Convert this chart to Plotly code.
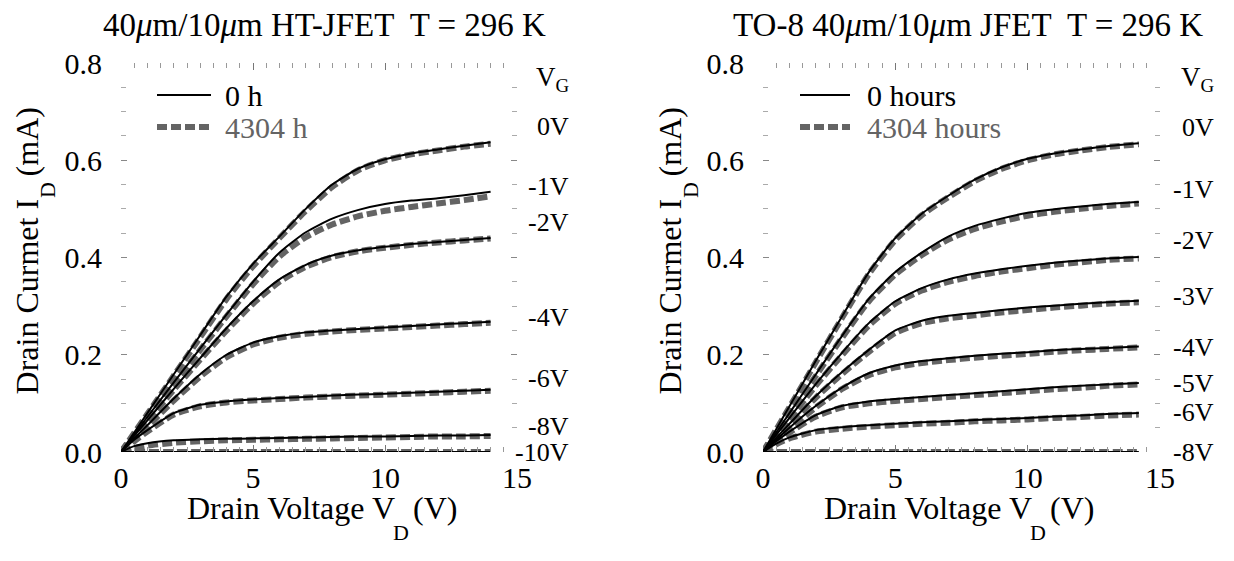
import plotly.graph_objects as go

# ---------------- data ----------------
vd_left = [0, 0.5, 1, 2, 3, 4, 5, 6, 7, 8, 9, 10, 11, 12, 13, 14]
vd_right = [0, 0.5, 1, 2, 3, 4, 5, 6, 7, 8, 9, 10, 11, 12, 13, 14.2]

vg_left = ["0V", "-1V", "-2V", "-4V", "-6V", "-8V", "-10V"]
left_0h = [
    [0, 0.04, 0.08, 0.16, 0.24, 0.32, 0.387, 0.443, 0.5, 0.55, 0.583, 0.602, 0.614, 0.622, 0.63, 0.637],
    [0, 0.036, 0.072, 0.143, 0.213, 0.283, 0.35, 0.41, 0.452, 0.48, 0.498, 0.51, 0.517, 0.522, 0.528, 0.535],
    [0, 0.033, 0.065, 0.13, 0.193, 0.255, 0.31, 0.355, 0.385, 0.404, 0.415, 0.422, 0.428, 0.432, 0.436, 0.44],
    [0, 0.028, 0.055, 0.11, 0.16, 0.20, 0.225, 0.238, 0.246, 0.25, 0.253, 0.256, 0.259, 0.262, 0.265, 0.268],
    [0, 0.025, 0.045, 0.08, 0.097, 0.104, 0.108, 0.111, 0.113, 0.116, 0.118, 0.12, 0.122, 0.124, 0.126, 0.128],
    [0, 0.012, 0.018, 0.024, 0.026, 0.027, 0.028, 0.029, 0.03, 0.031, 0.032, 0.032, 0.033, 0.034, 0.034, 0.035],
    [0, 0, 0, 0, 0, 0, 0, 0, 0, 0, 0, 0, 0, 0, 0, 0],
]
left_4304h = [
    [0, 0.039, 0.078, 0.157, 0.236, 0.315, 0.382, 0.44, 0.496, 0.545, 0.58, 0.6, 0.612, 0.62, 0.628, 0.634],
    [0, 0.035, 0.07, 0.14, 0.21, 0.279, 0.345, 0.402, 0.442, 0.468, 0.485, 0.496, 0.504, 0.511, 0.518, 0.526],
    [0, 0.032, 0.064, 0.128, 0.19, 0.25, 0.305, 0.35, 0.381, 0.401, 0.413, 0.42, 0.426, 0.431, 0.435, 0.439],
    [0, 0.026, 0.052, 0.106, 0.155, 0.195, 0.221, 0.235, 0.243, 0.248, 0.251, 0.254, 0.257, 0.26, 0.263, 0.266],
    [0, 0.022, 0.042, 0.077, 0.094, 0.102, 0.106, 0.109, 0.112, 0.114, 0.116, 0.118, 0.12, 0.122, 0.124, 0.126],
    [0, 0.008, 0.013, 0.019, 0.022, 0.024, 0.025, 0.026, 0.027, 0.028, 0.029, 0.03, 0.031, 0.032, 0.032, 0.033],
    [0, 0, 0, 0, 0, 0, 0, 0, 0, 0, 0, 0, 0, 0, 0, 0],
]
left_label_y = [0.670, 0.547, 0.473, 0.276, 0.152, 0.052, 0.0]

vg_right = ["0V", "-1V", "-2V", "-3V", "-4V", "-5V", "-6V", "-8V"]
right_0h = [
    [0, 0.047, 0.094, 0.188, 0.28, 0.37, 0.44, 0.49, 0.527, 0.56, 0.585, 0.603, 0.614, 0.622, 0.629, 0.635],
    [0, 0.04, 0.08, 0.16, 0.24, 0.315, 0.37, 0.41, 0.443, 0.465, 0.48, 0.492, 0.499, 0.505, 0.51, 0.514],
    [0, 0.035, 0.07, 0.14, 0.205, 0.265, 0.31, 0.337, 0.355, 0.367, 0.376, 0.383, 0.389, 0.394, 0.398, 0.401],
    [0, 0.029, 0.058, 0.115, 0.165, 0.21, 0.25, 0.27, 0.28, 0.286, 0.292, 0.297, 0.301, 0.305, 0.308, 0.311],
    [0, 0.025, 0.05, 0.095, 0.133, 0.162, 0.178, 0.187, 0.193, 0.198, 0.202, 0.205, 0.209, 0.212, 0.214, 0.217],
    [0, 0.022, 0.042, 0.076, 0.095, 0.104, 0.109, 0.113, 0.117, 0.121, 0.125, 0.129, 0.133, 0.136, 0.139, 0.142],
    [0, 0.017, 0.03, 0.045, 0.051, 0.055, 0.058, 0.061, 0.063, 0.066, 0.068, 0.07, 0.073, 0.075, 0.078, 0.08],
    [0, 0, 0, 0, 0, 0, 0, 0, 0, 0, 0, 0, 0, 0, 0, 0],
]
right_4304h = [
    [0, 0.046, 0.092, 0.185, 0.277, 0.366, 0.436, 0.487, 0.524, 0.557, 0.582, 0.6, 0.612, 0.62, 0.627, 0.633],
    [0, 0.039, 0.078, 0.157, 0.236, 0.31, 0.365, 0.405, 0.437, 0.459, 0.474, 0.486, 0.494, 0.5, 0.506, 0.511],
    [0, 0.034, 0.068, 0.137, 0.2, 0.26, 0.305, 0.332, 0.35, 0.362, 0.371, 0.378, 0.385, 0.39, 0.395, 0.398],
    [0, 0.028, 0.056, 0.112, 0.161, 0.206, 0.245, 0.265, 0.275, 0.281, 0.287, 0.292, 0.297, 0.301, 0.305, 0.308],
    [0, 0.024, 0.048, 0.092, 0.13, 0.158, 0.174, 0.183, 0.189, 0.194, 0.198, 0.202, 0.206, 0.209, 0.212, 0.215],
    [0, 0.021, 0.04, 0.073, 0.092, 0.1, 0.105, 0.109, 0.113, 0.117, 0.121, 0.125, 0.129, 0.132, 0.136, 0.139],
    [0, 0.016, 0.028, 0.042, 0.048, 0.052, 0.055, 0.058, 0.06, 0.063, 0.065, 0.067, 0.07, 0.072, 0.075, 0.077],
    [0, 0, 0, 0, 0, 0, 0, 0, 0, 0, 0, 0, 0, 0, 0, 0],
]
right_label_y = [0.668, 0.539, 0.436, 0.319, 0.214, 0.140, 0.082, 0.0]

x_ticks = [0, 5, 10, 15]
y_ticks = [0.0, 0.2, 0.4, 0.6, 0.8]

# ---------------- style ----------------
FONT = "Liberation Serif, Times New Roman, serif"
GRAY = "#646464"
FS = 30
OFF = 8                       # page body margin
W, H = 1234 - OFF, 561 - OFF  # figure size


def P(px, py):
    """window pixel -> paper fraction"""
    return (px - OFF) / W, 1 - (py - OFF) / H


fig = go.Figure()


def add_panel(vd, solid, dashed, xa, ya):
    for ys in dashed:
        fig.add_trace(go.Scatter(
            x=vd, y=ys, mode="lines", xaxis=xa, yaxis=ya, showlegend=False,
            line=dict(color=GRAY, width=6, dash="10px,4px", shape="spline", smoothing=0.6),
            hoverinfo="skip"))
    for ys in solid:
        fig.add_trace(go.Scatter(
            x=vd, y=ys, mode="lines", xaxis=xa, yaxis=ya, showlegend=False,
            line=dict(color="black", width=2, shape="spline", smoothing=0.6),
            hoverinfo="skip"))


add_panel(vd_left, left_0h, left_4304h, "x", "y")
add_panel(vd_right, right_0h, right_4304h, "x2", "y2")

L_dom = [P(121, 0)[0], P(517, 0)[0]]
R_dom = [P(763, 0)[0], P(1160, 0)[0]]
Y_dom = [P(0, 452)[1], P(0, 63)[1]]

xcommon = dict(range=[0, 15], tickvals=x_ticks, ticktext=[str(v) for v in x_ticks],
               ticks="inside", ticklen=7, tickwidth=1, tickcolor="#777",
               minor=dict(dtick=0.5, ticks="inside", ticklen=5, tickcolor="#999"),
               mirror="ticks", showline=False, showgrid=False, zeroline=False,
               tickfont=dict(family=FONT, size=FS, color="black"),
               ticklabelstandoff=5, fixedrange=True)
ycommon = dict(range=[0, 0.8], tickvals=y_ticks, ticktext=[f"{v:.1f}" for v in y_ticks],
               ticks="inside", ticklen=6, tickwidth=1, tickcolor="#888",
               minor=dict(dtick=0.05, ticks="inside", ticklen=5, tickcolor="#aaa"),
               mirror="ticks", showline=False, showgrid=False, zeroline=False,
               tickfont=dict(family=FONT, size=FS, color="black"),
               ticklabelstandoff=18, fixedrange=True)

fig.update_layout(
    width=W, height=H,
    margin=dict(l=0, r=0, t=0, b=0, autoexpand=False),
    paper_bgcolor="white", plot_bgcolor="white",
    font=dict(family=FONT, size=FS, color="black"),
    xaxis=dict(domain=L_dom, anchor="y", **xcommon),
    yaxis=dict(domain=Y_dom, anchor="x", **ycommon),
    xaxis2=dict(domain=R_dom, anchor="y2", **xcommon),
    yaxis2=dict(domain=Y_dom, anchor="x2", **ycommon),
    showlegend=False,
)

ann = []
shapes = []


def text(t, px, py, size, xa="center", ya="middle", angle=0, color="black"):
    x, y = P(px, py)
    ann.append(dict(text=t, x=x, y=y, xref="paper", yref="paper", showarrow=False,
                    xanchor=xa, yanchor=ya, textangle=angle,
                    font=dict(family=FONT, size=size, color=color)))


# titles
text("40<i>\u03bc</i>m/10<i>\u03bc</i>m HT-JFET  T = 296 K", 324, 25, 33)
text("TO-8 40<i>\u03bc</i>m/10<i>\u03bc</i>m JFET  T = 296 K", 968, 25, 33)

# x axis titles: "Drain Voltage V" + subscript D placed low + "(V)"
TS = 32
for cx in (320, 957):
    p1 = 6.365 * TS     # width of "Drain Voltage V" (Times metrics)
    p3 = 1.388 * TS     # width of "(V)"
    gap = 22
    x0 = cx - (p1 + gap + p3) / 2
    text("Drain Voltage V", x0, 508, TS, xa="left")
    text("D", x0 + p1 + gap / 2 + 1, 532, 22)
    text("(V)", x0 + p1 + gap, 508, TS, xa="left")

# y axis titles: "Drain Curmet I" + subscript D + "(mA)"
for cx in (27, 670):
    p1 = 6.11 * TS
    p3 = 2.166 * TS
    gap = 22
    ybot = 253 + (p1 + gap + p3) / 2
    text("Drain Curmet I", cx, ybot, TS, ya="bottom", angle=-90)
    text("D", cx + 21, ybot - p1 - gap / 2, 22, angle=-90)
    text("(mA)", cx, ybot - p1 - gap, TS, ya="bottom", angle=-90)

# VG labels
VS = 26
for rx, labels, ys, yr in ((571, vg_left, left_label_y, "y"), (1216, vg_right, right_label_y, "y2")):
    text("V<sub>G</sub>", rx + 1, 79, VS + 1, xa="right")
    x, _ = P(rx, 0)
    for lab, yv in zip(labels, ys):
        ann.append(dict(text=lab, x=x, y=yv, xref="paper", yref=yr, showarrow=False,
                        xanchor="right", yanchor="middle", font=dict(family=FONT, size=VS)))

# legends (drawn manually so the sample line length matches)
for (x0, x1, tx), names in (((157, 211, 223), ("0 h", "4304 h")),
                            ((800, 850, 865), ("0 hours", "4304 hours"))):
    for row, (py, col, dash, wd) in enumerate(((95, "black", "solid", 2), (127, GRAY, "10px,4px", 6))):
        a, b = P(x0, py)
        c, _ = P(x1, py)
        shapes.append(dict(type="line", xref="paper", yref="paper", x0=a, x1=c, y0=b, y1=b,
                           line=dict(color=col, width=wd, dash=dash)))
        text(names[row], tx, py, FS, xa="left", color=col)

fig.update_layout(annotations=ann, shapes=shapes)
fig.write_html("out.html")
